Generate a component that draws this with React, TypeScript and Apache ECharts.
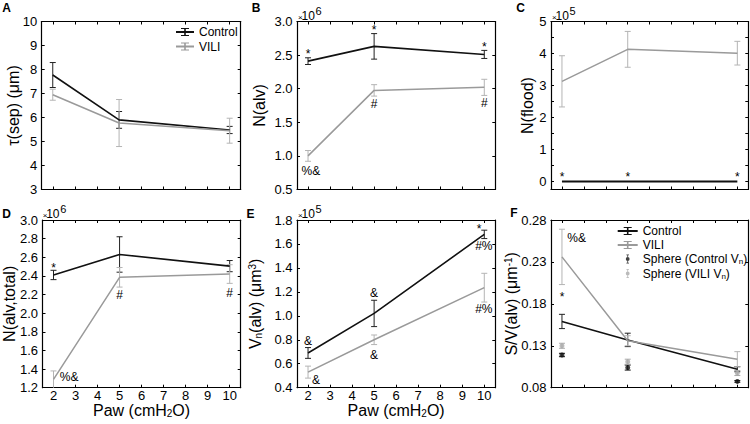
import React, { useEffect, useRef } from 'react';
import * as echarts from 'echarts';

const FONT = '"Liberation Sans", Arial, Helvetica, sans-serif';
const BLACK = '#111111';
const GRAY = '#9a9a9a';
const BLACK_BAR = '#222222';
const GRAY_BAR = '#b4b4b4';

// Shared x values (Paw, cmH2O)
const paw = [2, 5, 10];

// A: tau(sep) (um)
const tauControl = [7.77, 5.9, 5.48];
const tauControlErr = [0.52, 0.35, 0.15];
const tauVili = [6.95, 5.77, 5.45];
const tauViliErr = [0.23, 0.98, 0.52];

// B: N(alv) (x10^6)
const nAlvControl = [2.41, 2.63, 2.51];
const nAlvControlErr = [0.05, 0.19, 0.06];
const nAlvVili = [1.0, 1.975, 2.02];
const nAlvViliErr = [0.08, 0.085, 0.12];

// C: N(flood) (x10^5)
const nFloodControl = [0, 0, 0];
const nFloodControlErr = [0, 0, 0];
const nFloodVili = [3.13, 4.13, 4.01];
const nFloodViliErr = [0.8, 0.56, 0.37];

// D: N(alv,total) (x10^6)
const nAlvTotalControl = [2.41, 2.63, 2.505];
const nAlvTotalControlErr = [0.05, 0.19, 0.06];
const nAlvTotalVili = [1.29, 2.385, 2.42];
const nAlvTotalViliErr = [0.09, 0.105, 0.1];

// E: Vn(alv) (um^3) (x10^5)
const vnControl = [0.69, 1.02, 1.68];
const vnControlErr = [0.045, 0.11, 0.035];
const vnVili = [0.53, 0.8, 1.235];
const vnViliErr = [0.05, 0.04, 0.12];

// F: S/V(alv) (um^-1)
const svControl = [0.159, 0.137, 0.102];
const svControlErr = [0.0085, 0.008, 0.003];
const svVili = [0.236, 0.136, 0.114];
const svViliErr = [0.033, 0.006, 0.009];
const sphereControl = [0.119, 0.104, 0.0875];
const sphereControlErr = [0.002, 0.003, 0.001];
const sphereVili = [0.13, 0.111, 0.0975];
const sphereViliErr = [0.003, 0.003, 0.003];

// Significance annotations (data coordinates)
const annB = [
  { x: 2, y: 2.567, t: '*' }, { x: 5, y: 2.92, t: '*' }, { x: 10, y: 2.67, t: '*' },
  { x: 5, y: 1.77, t: '#' }, { x: 10, y: 1.785, t: '#' }, { x: 2.13, y: 0.77, t: '%&' },
];
const annC = [
  { x: 2, y: 0.24, t: '*' }, { x: 5, y: 0.24, t: '*' }, { x: 10, y: 0.24, t: '*' },
];
const annD = [
  { x: 2, y: 2.525, t: '*' }, { x: 5, y: 2.195, t: '#' }, { x: 10, y: 2.217, t: '#' },
  { x: 2.71, y: 1.318, t: '%&' },
];
const annE = [
  { x: 2, y: 0.793, t: '&' }, { x: 2.36, y: 0.468, t: '&' }, { x: 5, y: 1.19, t: '&' },
  { x: 5, y: 0.676, t: '&' }, { x: 9.76, y: 1.75, t: '*' }, { x: 9.98, y: 1.582, t: '#%' },
  { x: 9.98, y: 1.053, t: '#%' },
];
const annF = [
  { x: 2, y: 0.192, t: '*' }, { x: 2.67, y: 0.259, t: '%&' },
];

const legendNames = ['Control', 'VILI', 'Sphere (Control Vn)', 'Sphere (VILI Vn)'];

const GRIDS = [
  { left: 41.7, top: 21.5, width: 199, height: 168 },
  { left: 297, top: 21.5, width: 198.3, height: 168 },
  { left: 551, top: 21.5, width: 197.3, height: 168 },
  { left: 41.7, top: 220, width: 199, height: 167.7 },
  { left: 297, top: 220, width: 198.3, height: 167.7 },
  { left: 551, top: 220, width: 197.3, height: 167.7 },
];

const IBEAM = 'path://M2,0H8V1.2H5.6V8.8H8V10H2V8.8H4.4V1.2H2Z';
const DOT_IBEAM =
  'path://M0,0H0.01V0.01H0Z M20,10H19.99V9.99H20Z M10,3.1a1.9,1.9 0 1 1 0,3.8a1.9,1.9 0 1 1 0,-3.8Z M9.6,0.6H10.4V9.4H9.6Z M8.7,0.6H11.3V1.2H8.7Z M8.7,8.8H11.3V9.4H8.7Z';

const nameRich = {
  a: { fontSize: 16, lineHeight: 16, color: '#000' },
  s: { fontSize: 10, lineHeight: 10, verticalAlign: 'bottom', color: '#000' },
  p: { fontSize: 10, lineHeight: 10, verticalAlign: 'top', color: '#000' },
};

function xAxes(gi: number, showLabels: boolean) {
  const base: any = {
    gridIndex: gi, type: 'value', min: 1.5, max: 10.5, minInterval: 1, maxInterval: 1, splitNumber: 9,
    axisLine: { show: true, onZero: false, lineStyle: { color: '#000', width: 1.2 } },
    axisTick: { show: true, inside: true, length: 3, lineStyle: { color: '#000', width: 1 } },
    splitLine: { show: false },
  };
  return [
    {
      ...base, position: 'bottom',
      axisLabel: {
        show: showLabels, margin: 2, fontSize: 13, lineHeight: 12, color: '#000', fontFamily: FONT,
        formatter: (v: number) => (Number.isInteger(v) ? String(v) : ''),
      },
      name: showLabels ? '{a|Paw (cmH}{s|2}{a|O)}' : '',
      nameLocation: 'middle', nameGap: 14.5, nameMoveOverlap: false,
      nameTextStyle: { fontFamily: FONT, rich: nameRich },
    },
    { ...base, position: 'top', axisLabel: { show: false } },
  ];
}

function yAxes(gi: number, cfg: any) {
  const base: any = {
    gridIndex: gi, type: 'value', min: cfg.min, max: cfg.max,
    axisLine: { show: true, onZero: false, lineStyle: { color: '#000', width: 1.2 } },
    axisTick: { show: true, inside: true, length: 3, lineStyle: { color: '#000', width: 1 } },
    splitLine: { show: false },
  };
  if (cfg.interval != null) base.interval = cfg.interval;
  if (cfg.fixedStep != null) {
    base.minInterval = cfg.fixedStep;
    base.maxInterval = cfg.fixedStep;
    base.splitNumber = cfg.splitNumber;
  }
  return [
    {
      ...base, position: 'left',
      axisLabel: { margin: 4.5, fontSize: 13, color: '#000', fontFamily: FONT, formatter: cfg.formatter },
      name: cfg.name, nameLocation: 'middle', nameRotate: 90, nameGap: cfg.nameGap, nameMoveOverlap: false,
      nameTextStyle: { fontFamily: FONT, rich: nameRich },
    },
    { ...base, position: 'right', axisLabel: { show: false } },
  ];
}

function lineSeries(name: string, gi: number, vals: number[], color: string, width: number) {
  return {
    type: 'line', name, xAxisIndex: gi * 2, yAxisIndex: gi * 2,
    data: paw.map((x, i) => [x, vals[i]]),
    symbol: IBEAM, showSymbol: false, symbolSize: 8,
    lineStyle: { color, width }, itemStyle: { color }, z: 3, silent: true,
  };
}

function errorSeries(gi: number, xs: number[], vals: number[], errs: number[], color: string, z = 2) {
  return {
    type: 'custom', xAxisIndex: gi * 2, yAxisIndex: gi * 2, silent: true, z,
    data: xs.map((x, i) => [x, vals[i], errs[i]]),
    renderItem: (params: any, api: any) => {
      const x = api.value(0), y = api.value(1), e = api.value(2);
      if (!e) return null;
      const cs = params.coordSys;
      const pt = api.coord([x, y + e]);
      const pb = api.coord([x, y - e]);
      const lim0 = cs.y, lim1 = cs.y + cs.height;
      const t = Math.max(pt[1], lim0), b = Math.min(pb[1], lim1);
      const st = { stroke: color, lineWidth: 1 };
      const hw = 3;
      const children: any[] = [
        { type: 'line', shape: { x1: pt[0], y1: t, x2: pt[0], y2: b }, style: st },
      ];
      if (pt[1] >= lim0) children.push({ type: 'line', shape: { x1: pt[0] - hw, y1: pt[1], x2: pt[0] + hw, y2: pt[1] }, style: st });
      if (pb[1] <= lim1) children.push({ type: 'line', shape: { x1: pb[0] - hw, y1: pb[1], x2: pb[0] + hw, y2: pb[1] }, style: st });
      return { type: 'group', children };
    },
  };
}

function annSeries(gi: number, list: { x: number; y: number; t: string }[]) {
  return {
    type: 'custom', xAxisIndex: gi * 2, yAxisIndex: gi * 2, silent: true, z: 10,
    data: list.map((a) => [a.x, a.y]),
    renderItem: (params: any, api: any) => {
      const a = list[params.dataIndex];
      const p = api.coord([api.value(0), api.value(1)]);
      return {
        type: 'text', x: p[0], y: p[1] + (a.t === '*' ? 3.5 : 0),
        style: { text: a.t, fontSize: 12, fontFamily: FONT, fill: '#000', align: 'center', verticalAlign: 'middle' },
      };
    },
  };
}

function exponent(gi: number, e: string) {
  const g = GRIDS[gi];
  const st = { fill: '#000', fontFamily: FONT, align: 'left', verticalAlign: 'middle' };
  return [
    { type: 'text', x: g.left + 1, y: g.top - 4.5, style: { ...st, text: '\u00d7', fontSize: 8 } },
    { type: 'text', x: g.left + 4.5, y: g.top - 5.8, style: { ...st, text: '10', fontSize: 12 } },
    { type: 'text', x: g.left + 18.5, y: g.top - 11, style: { ...st, text: e, fontSize: 11 } },
  ];
}

const panelLetters = [
  { t: 'A', x: 6.5, y: 7.5 }, { t: 'B', x: 256, y: 7.5 }, { t: 'C', x: 520.5, y: 7.5 },
  { t: 'D', x: 6.5, y: 214 }, { t: 'E', x: 250.5, y: 214 }, { t: 'F', x: 514, y: 213 },
];

const f1 = (v: number) => v.toFixed(1);
const f2 = (v: number) => v.toFixed(2);
const fInt = (v: number) => (Number.isInteger(v) ? String(v) : '');

export default function App() {
  const ref = useRef<HTMLDivElement>(null);
  useEffect(() => {
    if (!ref.current) return;
    const chart = echarts.init(ref.current, null, { renderer: 'svg' });
    const option: any = {
      animation: false,
      backgroundColor: '#fff',
      textStyle: { fontFamily: FONT },
      grid: GRIDS.map((g) => ({ ...g, containLabel: false })),
      xAxis: [
        ...xAxes(0, false), ...xAxes(1, false), ...xAxes(2, false),
        ...xAxes(3, true), ...xAxes(4, true), ...xAxes(5, false),
      ],
      yAxis: [
        ...yAxes(0, { min: 3, max: 10, interval: 1, formatter: fInt, name: '{a|\u03c4(sep) (\u03bcm)}', nameGap: 20.5 }),
        ...yAxes(1, { min: 0.5, max: 3, interval: 0.5, formatter: f1, name: '{a|N(alv)}', nameGap: 30 }),
        ...yAxes(2, { min: -0.25, max: 5, fixedStep: 0.5, splitNumber: 10, formatter: fInt, name: '{a|N(flood)}', nameGap: 15.5 }),
        ...yAxes(3, { min: 1.2, max: 3, interval: 0.2, formatter: f1, name: '{a|N(alv,total)}', nameGap: 25.5 }),
        ...yAxes(4, { min: 0.4, max: 1.8, interval: 0.2, formatter: f1, name: '{a|V}{s|n}{a|(alv) (\u03bcm}{p|3}{a|)}', nameGap: 34 }),
        ...yAxes(5, { min: 0.08, max: 0.28, interval: 0.05, formatter: f2, name: '{a|S/V(alv) (\u03bcm}{p|-1}{a|)}', nameGap: 31.5 }),
      ],
      legend: [
        {
          left: 175, top: 26, orient: 'vertical', padding: 0, itemWidth: 18, itemHeight: 10, itemGap: 2.5,
          selectedMode: false, data: ['Control', 'VILI'],
          textStyle: { fontSize: 12, color: '#000', fontFamily: FONT },
        },
        {
          left: 616.7, top: 225, orient: 'vertical', padding: 0, itemWidth: 20, itemHeight: 10, itemGap: 2,
          selectedMode: false,
          data: [
            legendNames[0], legendNames[1],
            { name: legendNames[2], icon: DOT_IBEAM }, { name: legendNames[3], icon: DOT_IBEAM },
          ],
          formatter: (n: string) => (n.endsWith('Vn)') ? '{a|' + n.slice(0, -2) + '}{s|n}{a|)}' : '{a|' + n + '}'),
          textStyle: {
            fontSize: 12, color: '#000', fontFamily: FONT,
            rich: {
              a: { fontSize: 12, lineHeight: 13, color: '#000' },
              s: { fontSize: 8, lineHeight: 8, verticalAlign: 'bottom', color: '#000' },
            },
          },
        },
      ],
      series: [
        // A
        errorSeries(0, paw, tauControl, tauControlErr, BLACK_BAR),
        errorSeries(0, paw, tauVili, tauViliErr, GRAY_BAR),
        lineSeries('Control', 0, tauControl, BLACK, 1.6),
        lineSeries('VILI', 0, tauVili, GRAY, 1.5),
        // B
        errorSeries(1, paw, nAlvControl, nAlvControlErr, BLACK_BAR),
        errorSeries(1, paw, nAlvVili, nAlvViliErr, GRAY_BAR),
        lineSeries('Control', 1, nAlvControl, BLACK, 1.6),
        lineSeries('VILI', 1, nAlvVili, GRAY, 1.5),
        annSeries(1, annB),
        // C
        errorSeries(2, paw, nFloodVili, nFloodViliErr, GRAY_BAR),
        lineSeries('Control', 2, nFloodControl, BLACK, 1.8),
        lineSeries('VILI', 2, nFloodVili, GRAY, 1.5),
        errorSeries(2, paw, nFloodControl, nFloodControlErr, BLACK_BAR),
        annSeries(2, annC),
        // D
        errorSeries(3, paw, nAlvTotalControl, nAlvTotalControlErr, BLACK_BAR),
        errorSeries(3, paw, nAlvTotalVili, nAlvTotalViliErr, GRAY_BAR),
        lineSeries('Control', 3, nAlvTotalControl, BLACK, 1.6),
        lineSeries('VILI', 3, nAlvTotalVili, GRAY, 1.5),
        annSeries(3, annD),
        // E
        errorSeries(4, paw, vnControl, vnControlErr, BLACK_BAR),
        errorSeries(4, paw, vnVili, vnViliErr, GRAY_BAR),
        lineSeries('Control', 4, vnControl, BLACK, 1.6),
        lineSeries('VILI', 4, vnVili, GRAY, 1.5),
        annSeries(4, annE),
        // F
        errorSeries(5, paw, svControl, svControlErr, BLACK_BAR),
        errorSeries(5, paw, svVili, svViliErr, GRAY_BAR),
        lineSeries('Control', 5, svControl, BLACK, 1.6),
        lineSeries('VILI', 5, svVili, GRAY, 1.5),
        errorSeries(5, paw, sphereControl, sphereControlErr, BLACK, 4),
        errorSeries(5, paw, sphereVili, sphereViliErr, '#aaaaaa', 4),
        {
          type: 'scatter', name: legendNames[2], xAxisIndex: 10, yAxisIndex: 10, silent: true, z: 5,
          data: paw.map((x, i) => [x, sphereControl[i]]), symbol: 'circle', symbolSize: 5,
          itemStyle: { color: BLACK },
        },
        {
          type: 'scatter', name: legendNames[3], xAxisIndex: 10, yAxisIndex: 10, silent: true, z: 5,
          data: paw.map((x, i) => [x, sphereVili[i]]), symbol: 'circle', symbolSize: 5,
          itemStyle: { color: '#aaaaaa' },
        },
        annSeries(5, annF),
      ],
      graphic: [
        ...panelLetters.map((l) => ({
          type: 'text', x: l.x, y: l.y,
          style: { text: l.t, fontSize: 12, fontWeight: 'bold', fontFamily: FONT, fill: '#000', align: 'center', verticalAlign: 'middle' },
        })),
        ...exponent(1, '6'), ...exponent(2, '5'), ...exponent(3, '6'), ...exponent(4, '5'),
      ],
    };
    chart.setOption(option);
    return () => chart.dispose();
  }, []);
  return <div ref={ref} style={{ position: 'fixed', left: 0, top: 0, width: 750, height: 424 }} />;
}
